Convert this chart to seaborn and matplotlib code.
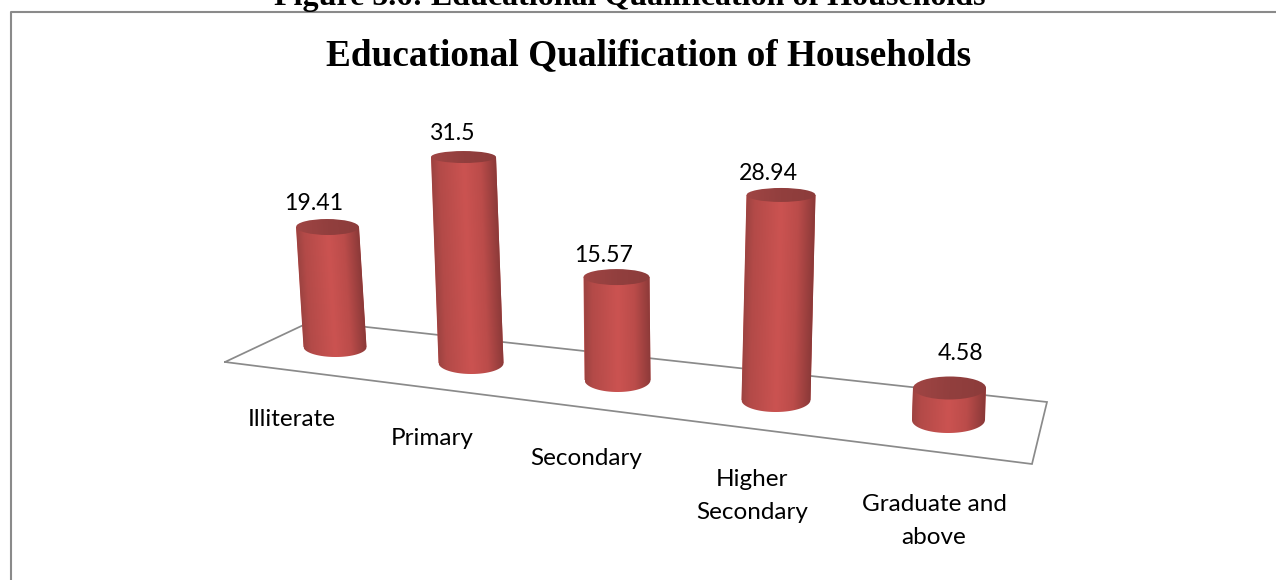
import numpy as np
import matplotlib
matplotlib.use("Agg")
import matplotlib.pyplot as plt
import seaborn as sns
from matplotlib.colors import LinearSegmentedColormap
from matplotlib.patches import Ellipse
from matplotlib.path import Path
from matplotlib.transforms import Affine2D

# ---- data ----
categories = ["Illiterate", "Primary", "Secondary", "Higher\nSecondary", "Graduate and\nabove"]
values = [19.41, 31.5, 15.57, 28.94, 4.58]
chart_title = "Educational Qualification of Households"
page_heading = "Figure 5.6: Educational Qualification of Households"

# ---- perspective layout (pixels of the 1276x580 canvas) ----
W, H = 1276, 580
PX_PER_UNIT = 6.5
floor_x = [335, 471, 617.5, 776, 948.5]      # bar foot centres
floor_y = [347, 363, 380, 400, 420]
lean_dx = [-7.5, -7.5, -1, 5, 1]             # top centre relative to foot
depth = [0.951, 1.006, 1.017, 1.09, 1.075]   # foreshortening of the value scale
bar_w = [63, 65, 66, 69, 73]
top_ry = [8, 6, 8, 7, 11.5]
foot_ry = [10, 11, 12, 12, 13]
floor_poly = [(225, 362), (312, 321), (1047, 402), (1032, 464), (225, 362)]
label_xy = [(291.5, 419.5), (432.5, 438.5), (586, 458.5), (752, 496), (934, 521)]
value_xy = [(314, 204), (452, 134), (604, 256), (768, 174), (961, 354)]


def Y(py):
    return (H - py) / PX_PER_UNIT


sns.set_theme(style="white")
plt.rcParams["font.family"] = ["Lato", "DejaVu Sans"]

fig = plt.figure(figsize=(W / 100, H / 100), dpi=100, facecolor="white")
ax = fig.add_axes([0, 0, 1, 1])

sns.barplot(x=floor_x, y=values, native_scale=True, color="#c0504d",
            saturation=1, linewidth=0, ax=ax, zorder=3)

side = LinearSegmentedColormap.from_list(
    "side", [(0, "#9c4341"), (0.12, "#b34a48"), (0.5, "#cb5351"),
             (0.75, "#bb4c4a"), (1, "#8a3938")])
lid = LinearSegmentedColormap.from_list(
    "lid", [(0, "#a04544"), (0.5, "#923f3e"), (1, "#8c3c3b")])

grad = np.linspace(0, 1, 256)[None, :]
for i, p in enumerate(ax.patches):
    w = bar_w[i]
    x0 = floor_x[i] - w / 2
    y0 = Y(floor_y[i])
    h = values[i] * depth[i]
    p.set_x(x0)
    p.set_width(w)
    p.set_y(y0)
    p.set_height(h)
    k = lean_dx[i] / h
    shear = Affine2D.from_values(1, 0, k, 1, -k * y0, 0) + ax.transData
    p.set_transform(shear)
    # cylinder wall: straight sides closed by the lower half of the foot ellipse
    t = np.linspace(0, np.pi, 60)
    arc_x = x0 + w / 2 * (1 + np.cos(t))
    arc_y = y0 - foot_ry[i] / PX_PER_UNIT * np.sin(t)
    vx = np.r_[x0, x0 + w, arc_x, x0]
    vy = np.r_[y0 + h, y0 + h, arc_y, y0 + h]
    wall = Path(np.c_[vx, vy])
    im = ax.imshow(grad, extent=(x0, x0 + w, y0 - 3, y0 + h), cmap=side,
                   aspect="auto", zorder=3.2, interpolation="bilinear")
    im.set_transform(shear)
    im.set_clip_path(wall, shear)
    # cylinder lid
    lid_e = Ellipse((x0 + w / 2, y0 + h), w, 2 * top_ry[i] / PX_PER_UNIT,
                    facecolor="none", edgecolor="none", transform=shear)
    ax.add_patch(lid_e)
    im2 = ax.imshow(grad, extent=(x0, x0 + w, y0 + h - 3, y0 + h + 3), cmap=lid,
                    aspect="auto", zorder=3.4, interpolation="bilinear")
    im2.set_transform(shear)
    im2.set_clip_path(lid_e)

# floor plane
ax.plot([q[0] for q in floor_poly], [Y(q[1]) for q in floor_poly],
        color="#8a8a8a", lw=1.25, zorder=2, solid_joinstyle="miter")

# chart frame
ax.plot([10.5, 10.5, W], [Y(H), Y(12), Y(12)], color="#8a8a8a", lw=1.5, zorder=2)

# texts
ax.text(630, Y(5), page_heading, family="Liberation Serif", weight="bold",
        fontsize=23, ha="center", va="baseline", color="black")
ax.text(649, Y(65), chart_title, family="Liberation Serif", weight="bold",
        fontsize=26.8, ha="center", va="baseline", color="black")
for c, (lx, ly) in zip(categories, label_xy):
    ax.text(lx, Y(ly), c, fontsize=17.5, ha="center", va="center",
            color="black", linespacing=1.73)
for v, (lx, ly) in zip(values, value_xy):
    ax.text(lx, Y(ly), f"{v:g}", fontsize=16.7, ha="center", va="center", color="black")

ax.set_xlim(0, W)
ax.set_ylim(0, H / PX_PER_UNIT)
ax.axis("off")
fig.savefig("out.png", dpi=100, facecolor="white")
